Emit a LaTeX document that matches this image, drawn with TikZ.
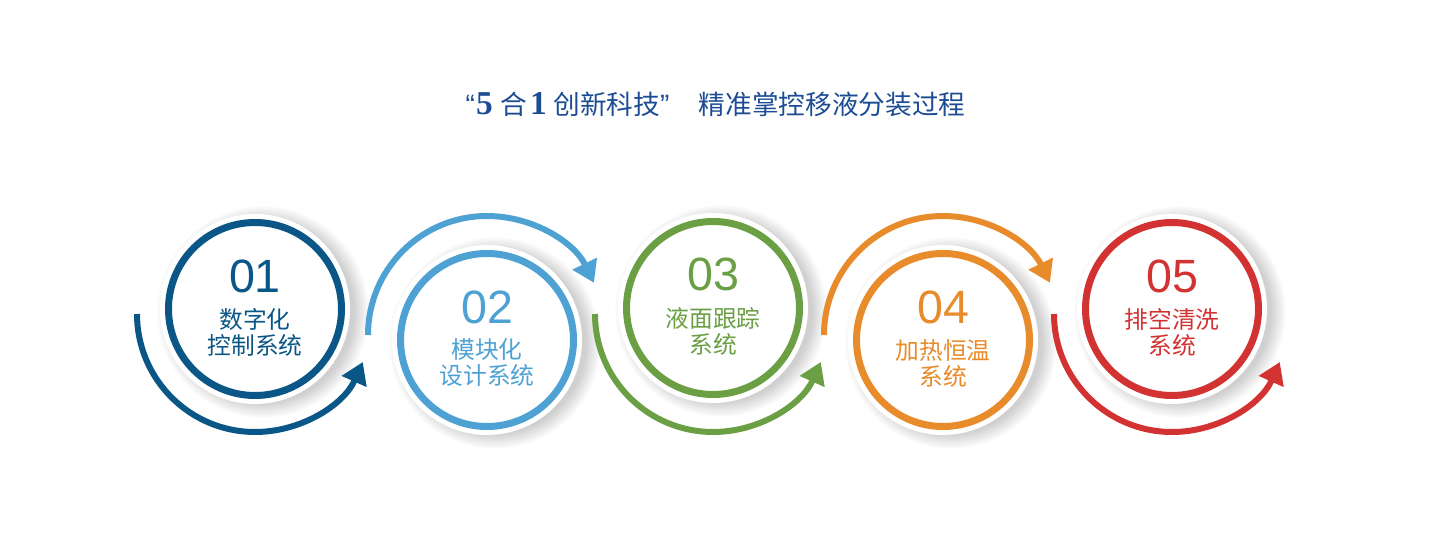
\documentclass[tikz,border=0pt]{standalone}
\usepackage{fontspec}
\setmainfont{Liberation Sans}
\newfontfamily\cjk{Noto Sans CJK SC}
\newfontfamily\numfont{Liberation Sans}
\newfontfamily\titleserif{Liberation Serif}
\usetikzlibrary{arrows.meta}

\definecolor{titleblue}{RGB}{27,76,148}
\definecolor{stepnavy}{RGB}{10,87,135}
\definecolor{stepsky}{RGB}{78,162,211}
\definecolor{stepgreen}{RGB}{106,159,68}
\definecolor{steporange}{RGB}{231,139,43}
\definecolor{stepred}{RGB}{211,50,50}

\tikzset{every picture/.style={line width=0.75pt},
	ring/.style={line width=5.25pt},
	loop arrow/.style={line width=4.5pt,-{Triangle[width=19.5pt,length=16pt]}},
	numlabel/.style={font=\numfont\fontsize{35}{40}\selectfont,inner sep=0pt,anchor=base},
	textlabel/.style={font=\cjk\fontsize{17.8}{19.5}\selectfont,align=center,inner sep=0pt}}

\newcommand{\titlecjk}{\cjk\fontsize{20}{22}\selectfont}
\newcommand{\titledigit}{\titleserif\bfseries\fontsize{25}{28}\selectfont}

\begin{document}
\begin{tikzpicture}[x=0.75pt,y=0.75pt,yscale=-1,xscale=1]
	\useasboundingbox (0,0) rectangle (1433,559);
	
	% Text Node: title
	\node (title) at (465,115) [anchor=base west,inner sep=0pt,text=titleblue] {{\fontsize{21}{22}\selectfont “}\hspace{1pt}{\titledigit 5}\hspace{6pt}{\titlecjk 合}\hspace{2pt}{\titledigit 1}\hspace{5pt}{\titlecjk 创新科技}{\fontsize{21}{22}\selectfont ”}\hspace{22pt}{\titlecjk 精准掌控移液分装过程}};
	
	% Shape: Circles with shadow
	\foreach \i/\cx/\cy/\col/\txt in {1/255/309/stepnavy/{数字化\\控制系统},2/487/340/stepsky/{模块化\\设计系统},3/713/308/stepgreen/{液面跟踪\\系统},4/943/340/steporange/{加热恒温\\系统},5/1172/309/stepred/{排空清洗\\系统}} {
		\foreach \r in {1,...,16} \fill [black,opacity=0.012] (\cx+8,\cy+3) circle [radius=90+\r];
		\fill [white] (\cx,\cy) circle [radius=95];
		\draw [ring,color=\col] (\cx,\cy) circle [radius=86.5];
		\node (num\i) [numlabel,text=\col] at (\cx,\cy-17) {0\i};
		\node (name\i) [textlabel,text=\col] at (\cx,\cy+23) {\txt};
	}
	
	% Shape: Arcs with arrow
	\foreach \cx/\cy/\col in {255/314/stepnavy,713/314/stepgreen,1172/314/stepred}
		\draw [loop arrow,color=\col] (\cx-118,\cy) arc [start angle=180,end angle=24,radius=118];
	\foreach \cx/\cy/\col in {487/335/stepsky,943/335/steporange}
		\draw [loop arrow,color=\col] (\cx-119,\cy) arc [start angle=180,end angle=334,radius=119];
	
\end{tikzpicture}
\end{document}
